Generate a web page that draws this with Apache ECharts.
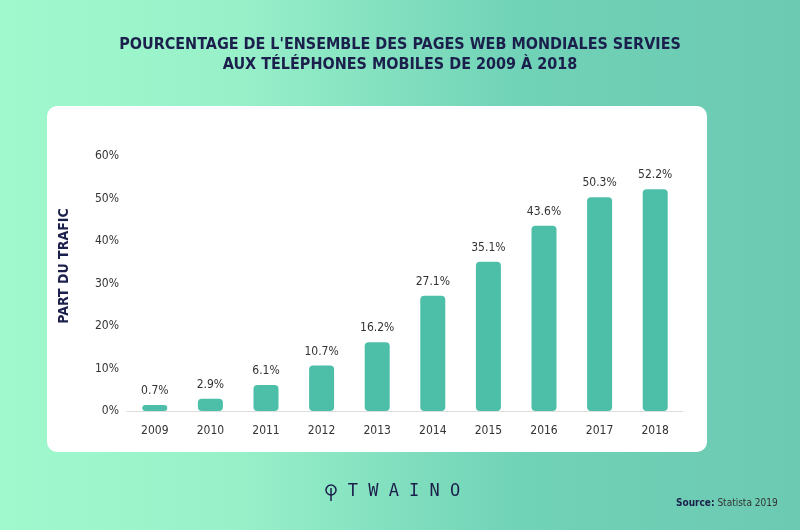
<!DOCTYPE html>
<html><head><meta charset="utf-8">
<script src="https://cdn.jsdelivr.net/npm/echarts@6/dist/echarts.min.js"></script>
<style>html,body{margin:0;padding:0;}#c{width:800px;height:530px;}</style>
</head><body><div id="c"></div>
<script>
var years = ['2009','2010','2011','2012','2013','2014','2015','2016','2017','2018'];
var shares = [0.7, 2.9, 6.1, 10.7, 16.2, 27.1, 35.1, 43.6, 50.3, 52.2];
var yTicks = [0, 10, 20, 30, 40, 50, 60];
var titleText = "POURCENTAGE DE L'ENSEMBLE DES PAGES WEB MONDIALES SERVIES\nAUX TÉLÉPHONES MOBILES DE 2009 À 2018";

var navy = '#1b1f4b';
var narrow = '"Liberation Sans Narrow", "DejaVu Sans Condensed", sans-serif';
var chart = echarts.init(document.getElementById('c'));
chart.setOption({
  animation: false,
  title: {
    text: titleText, left: 'center', top: 30,
    textStyle: { color: navy, fontSize: 16, fontWeight: 'bold', fontFamily: narrow, lineHeight: 20 }
  },
  graphic: [
    { type: 'rect', z: -20, silent: true, shape: { x: 0, y: 0, width: 800, height: 530 },
      style: { fill: new echarts.graphic.LinearGradient(0, 0, 1, 0, [
        { offset: 0, color: '#a0f9cd' }, { offset: 0.3, color: '#98f0c9' },
        { offset: 0.65, color: '#70d2b7' }, { offset: 1, color: '#6ccab2' }]) } },
    { type: 'rect', z: -10, silent: true, shape: { x: 47, y: 106, width: 660, height: 346, r: 10 },
      style: { fill: '#ffffff' } },
    { type: 'text', z: 10, x: 64, y: 266, rotation: Math.PI / 2,
      style: { text: 'PART DU TRAFIC', fill: navy, font: 'bold 14px ' + narrow, textAlign: 'center', textVerticalAlign: 'middle' } },
    { type: 'text', z: 10, x: 404, y: 492,
      style: { text: 'T W A I N O', fill: navy, font: '17px "DejaVu Sans Mono", monospace', textAlign: 'center', textVerticalAlign: 'middle' } },
    { type: 'group', z: 10, x: 331, y: 492, children: [
      { type: 'circle', shape: { cx: 0, cy: -2, r: 5 }, style: { fill: 'none', stroke: navy, lineWidth: 1.5 } },
      { type: 'line', shape: { x1: 0, y1: -4, x2: 0, y2: 9 }, style: { stroke: navy, lineWidth: 1.5 } }
    ] },
    { type: 'text', z: 10, x: 676, y: 503,
      style: { text: '{b|Source:} Statista 2019', fill: '#333', font: '10px ' + narrow, textVerticalAlign: 'middle',
        rich: { b: { fontWeight: 'bold', fill: navy, fontSize: 10, fontFamily: narrow } } } }
  ],
  grid: { left: 127, right: 117, top: 156, bottom: 119 },
  xAxis: {
    type: 'category', data: years,
    axisLine: { lineStyle: { color: '#dddddd' } },
    axisTick: { show: false },
    axisLabel: { color: '#333', fontSize: 12, fontFamily: narrow, margin: 14 }
  },
  yAxis: {
    type: 'value', min: 0, max: 60, interval: 10,
    splitLine: { show: false },
    axisLabel: { color: '#333', fontSize: 12, fontFamily: narrow, margin: 8,
      formatter: function (v) { return yTicks.indexOf(v) >= 0 ? v + '%' : ''; } }
  },
  series: [{
    type: 'bar', data: shares, barWidth: 25, barMinHeight: 6,
    itemStyle: { color: '#4dbfa9', borderRadius: 4 },
    label: { show: true, position: 'top', distance: 8, color: '#333', fontSize: 12, fontFamily: narrow,
      formatter: function (p) { return p.value + '%'; } }
  }]
});
</script></body></html>
